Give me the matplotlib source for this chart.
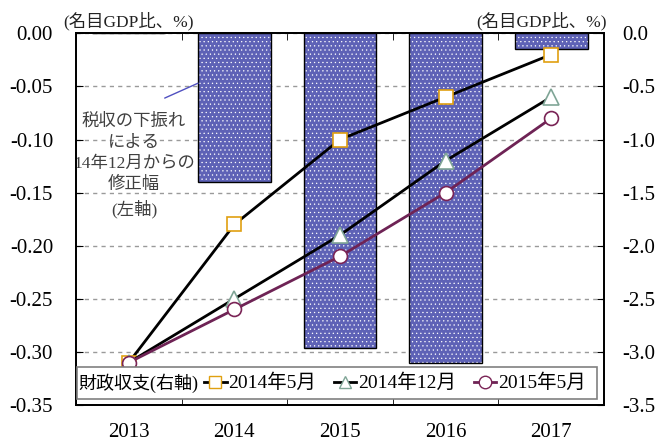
import numpy as np
import matplotlib
matplotlib.use("Agg")
import matplotlib.pyplot as plt
from matplotlib.lines import Line2D
from matplotlib.patches import Rectangle

plt.rcParams['font.family'] = ['Liberation Serif', 'Noto Sans CJK JP']
plt.rcParams['axes.unicode_minus'] = False
plt.rcParams['hatch.linewidth'] = 0.4

years = ['2013', '2014', '2015', '2016', '2017']
# revision of tax revenue (left axis)
revision = [0.0, -0.14, -0.296, -0.31, -0.015]
# fiscal balance (right axis)
may2014 = [-3.1, -1.8, -1.0, -0.6, -0.2]
dec2014 = [-3.1, -2.5, -1.9, -1.2, -0.6]
may2015 = [-3.1, -2.6, -2.1, -1.5, -0.8]
series_labels = ['2014年5月', '2014年12月', '2015年5月']

x = np.arange(len(years))

fig = plt.figure(figsize=(6.62, 4.41), dpi=100)
ax = fig.add_axes([0.1148, 0.0816, 0.7976, 0.8429])
ax2 = ax.twinx()

bar_color = '#5E62B6'
ax.bar(x, revision, width=0.69, color=bar_color, edgecolor='white',
       hatch='....', linewidth=0, zorder=2)
ax.bar(x, revision, width=0.69, fill=False, edgecolor='black',
       linewidth=1.0, zorder=3)

ax.set_xlim(-0.5, 4.5)
ax.set_ylim(-0.35, 0.0)
ax.set_yticks(np.linspace(-0.35, 0.0, 8))
ax.yaxis.set_major_formatter(matplotlib.ticker.FormatStrFormatter('%.2f'))
ax.set_xticks(x)
ax.set_xticklabels(years)
ax.set_xticks(np.linspace(-0.5, 4.5, 11), minor=True)
ax.grid(axis='y', linestyle=(0, (3, 3)), color='#9a9a9a', linewidth=1.0, zorder=1)
ax.set_axisbelow(True)
ax.tick_params(axis='y', direction='in', length=5, labelsize=15, pad=16.5)
ax.tick_params(axis='x', which='major', length=0, labelsize=15, pad=13)
ax.tick_params(axis='x', which='minor', direction='in', length=5, top=True, bottom=True)
for s in ax.spines.values():
    s.set_linewidth(1.3)

ax2.plot(x, may2014, color='black', linewidth=2.0, marker='s', markersize=10,
         markerfacecolor='white', markeredgecolor='#E0A010', markeredgewidth=1.2, zorder=4)
ax2.plot(x, dec2014, color='black', linewidth=2.0, marker='^', markersize=11,
         markerfacecolor='white', markeredgecolor='#7FA596', markeredgewidth=1.2, zorder=4)
ax2.plot(x, may2015, color='#6E2355', linewidth=2.0, marker='o', markersize=10,
         markerfacecolor='white', markeredgecolor='#7A2456', markeredgewidth=1.2, zorder=5)
ax2.set_ylim(-3.5, 0.0)
ax2.set_yticks(np.linspace(-3.5, 0.0, 8))
ax2.yaxis.set_major_formatter(matplotlib.ticker.FormatStrFormatter('%.1f'))
ax2.tick_params(axis='y', direction='in', length=5, labelsize=15, pad=13)
for s in ax2.spines.values():
    s.set_linewidth(1.3)

# legend
ax2.add_patch(Rectangle((0.002, 0.016), 0.985, 0.086, transform=ax2.transAxes,
                        facecolor='white', edgecolor='#808080', linewidth=1.2, zorder=6))
ax2.text(0.004, 0.059, '財政収支(右軸)', transform=ax2.transAxes, fontsize=13,
         ha='left', va='center', zorder=7)
handles = [
    Line2D([], [], color='black', linewidth=2.0, marker='s', markersize=9,
           markerfacecolor='white', markeredgecolor='#E0A010'),
    Line2D([], [], color='black', linewidth=2.0, marker='^', markersize=9,
           markerfacecolor='white', markeredgecolor='#7FA596'),
    Line2D([], [], color='#6E2355', linewidth=2.0, marker='o', markersize=9,
           markerfacecolor='white', markeredgecolor='#7A2456'),
]
leg = ax2.legend(handles, series_labels, ncol=3, frameon=False, fontsize=14,
                 loc='center left', bbox_to_anchor=(0.243, 0.059),
                 handlelength=1.15, handletextpad=0.1, columnspacing=0.9,
                 borderpad=0, borderaxespad=0)
leg.set_zorder(8)

# annotation
ax.text(0.05, -0.125, '税収の下振れ\nによる\n14年12月からの\n修正幅\n(左軸)',
        ha='center', va='center', fontsize=12.5, color='#404040',
        linespacing=1.42, zorder=6)
ax.annotate('', xy=(0.655, -0.047), xytext=(0.34, -0.061),
            arrowprops=dict(arrowstyle='-', color='#5050C0', linewidth=1.0,
                            shrinkA=0, shrinkB=0),
            zorder=6)

fig.text(63 / 662, 1 - 21 / 441, '(名目GDP比、%)', fontsize=12.5,
         ha='left', va='center', color='#222222')
fig.text(607 / 662, 1 - 21 / 441, '(名目GDP比、%)', fontsize=12.5,
         ha='right', va='center', color='#222222')

fig.savefig('out.png', dpi=100)
